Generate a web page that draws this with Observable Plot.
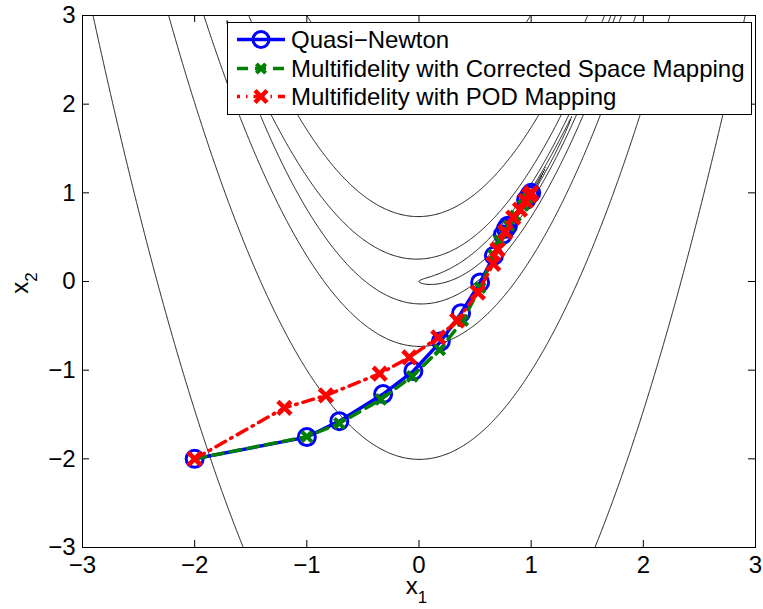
<!DOCTYPE html>
<html>
<head>
<meta charset="utf-8">
<script src="https://cdn.jsdelivr.net/npm/d3@7"></script>
<script src="https://cdn.jsdelivr.net/npm/@observablehq/plot@0.6"></script>
<style>
  html, body { margin: 0; padding: 0; background: #fff; }
  #wrap { position: relative; width: 763px; height: 609px; font-family: "Liberation Sans", Arial, Helvetica, sans-serif; }
  #wrap svg.overlay { position: absolute; left: 0; top: 0; pointer-events: none; }
</style>
</head>
<body>
<div id="wrap"></div>
<script>
// ---------- data ----------
const xTicks = [-3, -2, -1, 0, 1, 2, 3];
const yTicks = [-3, -2, -1, 0, 1, 2, 3];

// contour levels of log(f) for the Rosenbrock function
const contourLogLevels = [-4, -2, 0, 2, 4, 6, 8];

const seriesNames = ["Quasi\u2212Newton", "Multifidelity with Corrected Space Mapping", "Multifidelity with POD Mapping"];

// Quasi-Newton iterates
const qnX = [-2.0, -1.0, -0.71, -0.32, -0.05, 0.195, 0.375, 0.545, 0.668, 0.749, 0.775, 0.793, 0.955, 0.985, 1.0];
const qnY = [-2.0, -1.755, -1.575, -1.27, -1.01, -0.675, -0.357, -0.01, 0.29, 0.53, 0.595, 0.63, 0.92, 0.975, 1.0];

// Multifidelity with corrected space mapping
const csmX = [-2.0, -1.0, -0.71, -0.34, -0.06, 0.185, 0.39, 0.545, 0.665, 0.72, 0.76, 0.80, 0.86, 0.93, 0.97, 1.0];
const csmY = [-2.0, -1.75, -1.60, -1.33, -1.07, -0.77, -0.44, -0.07, 0.30, 0.46, 0.56, 0.63, 0.74, 0.86, 0.94, 1.0];

// Multifidelity with POD mapping
const podX = [-2.0, -1.2, -0.83, -0.35, -0.086, 0.172, 0.34, 0.525, 0.662, 0.70, 0.77, 0.84, 0.90, 0.95, 0.985, 1.0];
const podY = [-2.0, -1.425, -1.285, -1.04, -0.856, -0.63, -0.44, -0.125, 0.20, 0.36, 0.56, 0.72, 0.81, 0.91, 0.97, 1.0];

// ---------- contour computation ----------
const gridMin = -3.1, gridStep = 0.01, gridN = 621;
const values = new Float64Array(gridN * gridN);
for (let j = 0; j < gridN; j++) {
  const y = gridMin + j * gridStep;
  for (let i = 0; i < gridN; i++) {
    const x = gridMin + i * gridStep;
    const f = 100 * (y - x * x) ** 2 + (1 - x) ** 2;
    values[j * gridN + i] = Math.log(f + 1e-12);
  }
}
const contours = d3.contours().size([gridN, gridN]).thresholds(contourLogLevels)(values);
const contourPts = [];
let ringId = 0;
for (const c of contours) {
  for (const poly of c.coordinates) {
    for (const ring of poly) {
      ringId++;
      for (const p of ring) {
        contourPts.push({x: gridMin + (p[0] - 0.5) * gridStep, y: gridMin + (p[1] - 0.5) * gridStep, id: ringId});
      }
    }
  }
}

const qn = qnX.map((x, i) => ({x, y: qnY[i]}));
const csm = csmX.map((x, i) => ({x, y: csmY[i]}));
const pod = podX.map((x, i) => ({x, y: podY[i]}));

// ---------- layout ----------
const W = 763, H = 609, mL = 82, mR = 8, mT = 15, mB = 62;
const plotW = W - mL - mR, plotH = H - mT - mB;
const tickLen = 7;
const blue = "#0000ff", green = "#008000", red = "#ff0000";
const fmt = d3.format("d");

const chart = Plot.plot({
  width: W, height: H,
  marginLeft: mL, marginRight: mR, marginTop: mT, marginBottom: mB,
  x: {domain: [-3, 3], label: null},
  y: {domain: [-3, 3], label: null},
  style: {fontFamily: '"Liberation Sans", Arial, Helvetica, sans-serif', fontSize: "24px", color: "#000", background: "#fff", overflow: "visible"},
  marks: [
    Plot.line(contourPts, {x: "x", y: "y", z: "id", stroke: "#000", strokeWidth: 0.9, clip: true}),
    // Quasi-Newton
    Plot.line(qn, {x: "x", y: "y", stroke: blue, strokeWidth: 3.5}),
    Plot.dot(qn, {x: "x", y: "y", r: 8.5, stroke: blue, strokeWidth: 3, fill: "none"}),
    // Corrected space mapping
    Plot.line(csm, {x: "x", y: "y", stroke: green, strokeWidth: 3.5, strokeDasharray: "11,7"}),
    Plot.dot(csm, {x: "x", y: "y", symbol: "times", r: 4.6, stroke: green, strokeWidth: 4}),
    // POD mapping
    Plot.line(pod, {x: "x", y: "y", stroke: red, strokeWidth: 3.5, strokeDasharray: "11,6,1.5,6"}),
    Plot.dot(pod, {x: "x", y: "y", symbol: "times", r: 6, stroke: red, strokeWidth: 4.5}),
    // frame and inward ticks (MATLAB box)
    Plot.frame({stroke: "#000", strokeWidth: 1}),
    Plot.tickX(xTicks, {x: d => d, insetTop: plotH - tickLen, stroke: "#000", strokeWidth: 1}),
    Plot.tickX(xTicks, {x: d => d, insetBottom: plotH - tickLen, stroke: "#000", strokeWidth: 1}),
    Plot.tickY(yTicks, {y: d => d, insetRight: plotW - tickLen, stroke: "#000", strokeWidth: 1}),
    Plot.tickY(yTicks, {y: d => d, insetLeft: plotW - tickLen, stroke: "#000", strokeWidth: 1}),
    Plot.axisX({ticks: xTicks, tickSize: 0, tickPadding: 8, tickFormat: fmt, label: null}),
    Plot.axisY({ticks: yTicks, tickSize: 0, tickPadding: 7, tickFormat: fmt, label: null})
  ]
});

const wrap = document.getElementById("wrap");
wrap.appendChild(chart);

// ---------- overlay: axis labels and legend ----------
const ov = d3.create("svg").attr("class", "overlay").attr("width", W).attr("height", H)
  .style("font-family", '"Liberation Sans", Arial, Helvetica, sans-serif');

// x label
const xl = ov.append("text").attr("x", mL + plotW / 2 - 2).attr("y", 594).attr("text-anchor", "middle").attr("font-size", 24);
xl.append("tspan").text("x");
xl.append("tspan").attr("dy", 9).attr("font-size", 17).text("1");
// y label
const yl = ov.append("text").attr("transform", `translate(28,${mT + plotH / 2 + 2}) rotate(-90)`).attr("text-anchor", "middle").attr("font-size", 24);
yl.append("tspan").text("x");
yl.append("tspan").attr("dy", 9).attr("font-size", 17).text("2");

// legend
const lg = ov.append("g").attr("transform", "translate(227,22)");
lg.append("rect").attr("x", 0.5).attr("y", 0.5).attr("width", 524).attr("height", 92).attr("fill", "#fff").attr("stroke", "#000").attr("stroke-width", 1);
const rowY = [17.5, 46.5, 74.5];
const styles = [
  {stroke: blue, dash: null, marker: "circle"},
  {stroke: green, dash: "11,7", marker: "timesS"},
  {stroke: red, dash: "11,6,1.5,6", marker: "timesL"}
];
seriesNames.forEach((name, i) => {
  const g = lg.append("g").attr("transform", `translate(0,${rowY[i]})`);
  g.append("line").attr("x1", 10).attr("x2", 58).attr("y1", 0).attr("y2", 0)
    .attr("stroke", styles[i].stroke).attr("stroke-width", 3.5)
    .attr("stroke-dasharray", styles[i].dash).attr("stroke-dashoffset", i === 2 ? 8 : 0);
  if (styles[i].marker === "circle") {
    g.append("circle").attr("cx", 34).attr("cy", 0).attr("r", 8).attr("fill", "none").attr("stroke", blue).attr("stroke-width", 3);
  } else {
    const s = styles[i].marker === "timesS" ? 4.6 : 6;
    g.append("path").attr("d", `M${34 - s},${-s}L${34 + s},${s}M${34 - s},${s}L${34 + s},${-s}`)
      .attr("stroke", styles[i].stroke).attr("stroke-width", i === 2 ? 4.5 : 4).attr("fill", "none");
  }
  g.append("text").attr("x", 64).attr("y", 0).attr("dy", "0.35em").attr("font-size", 24).attr("fill", "#000").text(name);
});

wrap.appendChild(ov.node());
</script>
</body>
</html>
